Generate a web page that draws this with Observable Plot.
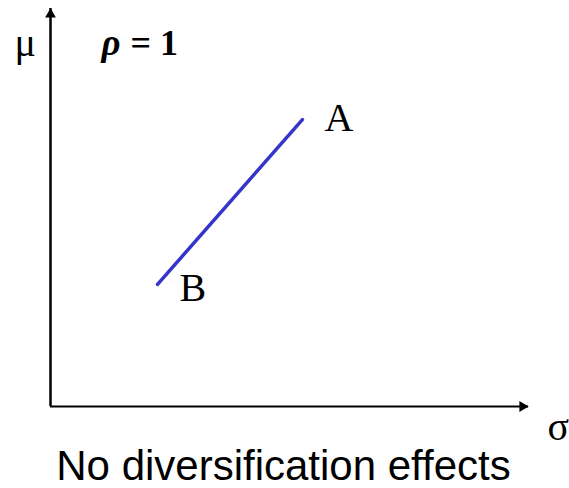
<!DOCTYPE html>
<html>
<head>
<meta charset="utf-8">
<script src="https://cdn.jsdelivr.net/npm/d3@7"></script>
<script src="https://cdn.jsdelivr.net/npm/@observablehq/plot@0.6"></script>
<style>
  html, body { margin: 0; padding: 0; background: #fff; }
</style>
</head>
<body>
<div id="chart"></div>
<script>
// Two portfolios on the mean–variance plane, perfectly correlated (rho = 1)
const portfolios = ["B", "A"];
const sigma = [2.24, 5.27];   // risk (standard deviation)
const mu = [3.07, 7.21];      // expected return
const axisMax = 10;
const caption = "No diversification effects";

const points = portfolios.map((name, i) => ({name, sigma: sigma[i], mu: mu[i]}));
const serif = "'Liberation Serif', 'Times New Roman', serif";
const sans = "'Liberation Sans', Arial, sans-serif";

const chart = Plot.plot({
  width: 569,
  height: 488,
  marginLeft: 50,
  marginRight: 41,
  marginTop: 8,
  marginBottom: 82,
  x: {domain: [0, axisMax], axis: null},
  y: {domain: [0, axisMax], axis: null},
  marks: [
    // axes with filled arrowheads
    Plot.ruleX([0], {y1: 0, y2: axisMax, stroke: "black", strokeWidth: 2.5}),
    Plot.ruleY([0], {x1: 0, x2: axisMax, stroke: "black", strokeWidth: 2}),
    Plot.dot([[0, axisMax]], {x: d => d[0], y: d => d[1], symbol: "triangle", r: 4, fill: "black", stroke: "none", dy: 6}),
    Plot.dot([[axisMax, 0]], {x: d => d[0], y: d => d[1], symbol: "triangle", r: 4, rotate: 90, fill: "black", stroke: "none", dx: -6}),
    // axis labels
    Plot.text([[0, axisMax]], {x: d => d[0], y: d => d[1], text: () => "μ", fontFamily: serif, fontSize: 40, textAnchor: "start", lineAnchor: "bottom", dx: -36, dy: 47, fill: "black"}),
    Plot.text([[axisMax, 0]], {x: d => d[0], y: d => d[1], text: () => "σ", fontFamily: serif, fontSize: 40, textAnchor: "start", lineAnchor: "bottom", dx: 19, dy: 33, fill: "black"}),
    // correlation annotation
    Plot.text([[0, axisMax]], {x: d => d[0], y: d => d[1], text: () => "ρ", fontFamily: serif, fontSize: 37, fontWeight: "bold", fontStyle: "italic", textAnchor: "start", lineAnchor: "bottom", dx: 51, dy: 46, fill: "black"}),
    Plot.text([[0, axisMax]], {x: d => d[0], y: d => d[1], text: () => "= 1", fontFamily: serif, fontSize: 36, fontWeight: "bold", textAnchor: "start", lineAnchor: "bottom", dx: 80, dy: 46, fill: "black"}),
    // the efficient set between B and A
    Plot.line(points, {x: "sigma", y: "mu", stroke: "#3535cc", strokeWidth: 3.5}),
    // portfolio labels
    Plot.text(points.filter(d => d.name === "A"), {x: "sigma", y: "mu", text: "name", fontFamily: serif, fontSize: 40, textAnchor: "start", lineAnchor: "bottom", dx: 22, dy: 11, fill: "black"}),
    Plot.text(points.filter(d => d.name === "B"), {x: "sigma", y: "mu", text: "name", fontFamily: serif, fontSize: 40, textAnchor: "start", lineAnchor: "bottom", dx: 22, dy: 17, fill: "black"}),
    // caption
    Plot.text([caption], {text: d => d, frameAnchor: "bottom", fontFamily: sans, fontSize: 42, lineAnchor: "bottom", dx: -6, dy: 73, fill: "black"})
  ]
});

document.getElementById("chart").append(chart);
</script>
</body>
</html>
